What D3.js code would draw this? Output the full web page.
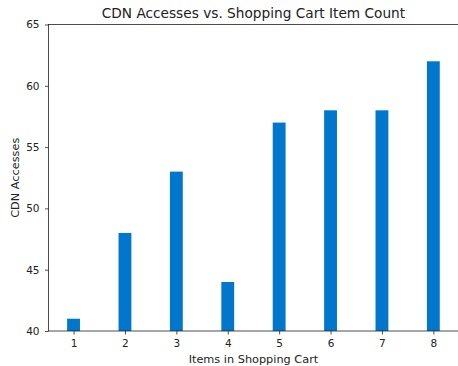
<!DOCTYPE html>
<html>
<head>
<meta charset="utf-8">
<script src="https://cdn.jsdelivr.net/npm/d3@7"></script>
<style>
  html, body { margin: 0; padding: 0; background: #fff; }
  svg { display: block; }
  text { font-family: "DejaVu Sans", sans-serif; fill: #222; }
</style>
</head>
<body>
<svg id="chart" width="458" height="366"></svg>
<script>
// Items in cart and CDN access counts
const items = [1, 2, 3, 4, 5, 6, 7, 8];
const accesses = [41, 48, 53, 44, 57, 58, 58, 62];
const yTicks = [40, 45, 50, 55, 60, 65];

const svg = d3.select("#chart");
const barWidth = 0.25;

const plotLeft = 48.5, plotTop = 24.5, plotBottom = 331, plotRight = 458.4;

const x = d3.scaleLinear()
  .domain([1 - barWidth / 2 - 0.3625, 8 + barWidth / 2 + 0.3625])
  .range([plotLeft, plotRight]);
const y = d3.scaleLinear().domain([40, 65]).range([plotBottom, plotTop]);

// Bars
svg.append("g")
  .selectAll("rect")
  .data(items)
  .join("rect")
  .attr("x", (d) => x(d - barWidth / 2))
  .attr("width", (d) => x(d + barWidth / 2) - x(d - barWidth / 2))
  .attr("y", (d, i) => y(accesses[i]))
  .attr("height", (d, i) => y(40) - y(accesses[i]))
  .attr("fill", "#0077cc");

// Axes
const xAxis = d3.axisBottom(x).tickValues(items).tickFormat(d3.format("d"))
  .tickSize(3.5).tickPadding(5.5);
const yAxis = d3.axisLeft(y).tickValues(yTicks).tickFormat(d3.format("d"))
  .tickSize(3.5).tickPadding(5.5);

const gx = svg.append("g").attr("transform", `translate(0,${plotBottom})`).call(xAxis);
const gy = svg.append("g").attr("transform", `translate(${plotLeft},0)`).call(yAxis);
[gx, gy].forEach((g) => {
  g.select(".domain").remove();
  g.selectAll(".tick line").attr("stroke", "#222").attr("stroke-width", 0.8);
  g.selectAll(".tick text").attr("font-size", 10.5).attr("fill", "#222")
    .style("font-family", "'DejaVu Sans', sans-serif");
});

// Frame
svg.append("rect")
  .attr("x", plotLeft).attr("y", plotTop)
  .attr("width", plotRight - plotLeft).attr("height", plotBottom - plotTop)
  .attr("fill", "none").attr("stroke", "#222").attr("stroke-width", 0.8);

// Title and axis labels
svg.append("text")
  .attr("x", (plotLeft + plotRight) / 2).attr("y", 18.3)
  .attr("text-anchor", "middle").attr("font-size", 13.7)
  .text("CDN Accesses vs. Shopping Cart Item Count");

svg.append("text")
  .attr("x", (plotLeft + plotRight) / 2).attr("y", 363)
  .attr("text-anchor", "middle").attr("font-size", 11.3)
  .text("Items in Shopping Cart");

svg.append("text")
  .attr("transform", `translate(18.5,${(plotTop + plotBottom) / 2}) rotate(-90)`)
  .attr("text-anchor", "middle").attr("font-size", 11.3)
  .text("CDN Accesses");
</script>
</body>
</html>
